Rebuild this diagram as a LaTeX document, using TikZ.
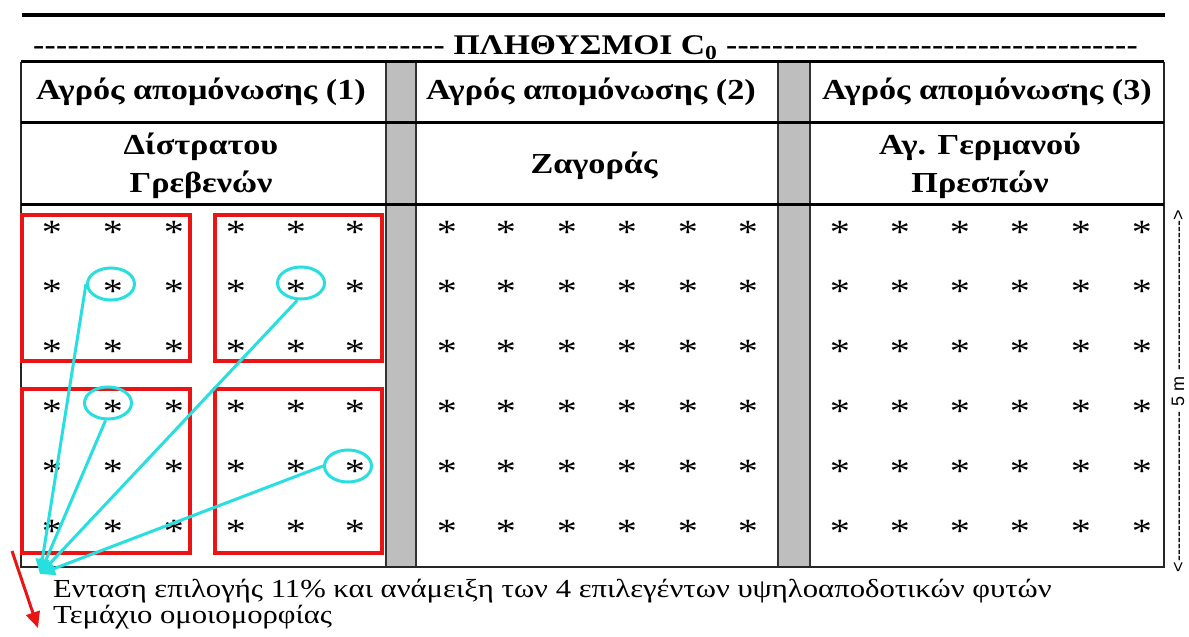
\documentclass[tikz,border=0pt]{standalone}
\usepackage{fontspec}
\setmainfont{Liberation Serif}[FakeStretch=1.18]
\newfontfamily\dimfont{Liberation Sans}
\usetikzlibrary{arrows.meta,shapes.geometric}
\definecolor{selcyan}{RGB}{40,222,222}
\definecolor{boxred}{RGB}{235,20,20}
\definecolor{sepgrey}{RGB}{190,190,190}
\tikzset{
  heavyrule/.style={line width=3bp, black},
  lightrule/.style={line width=1.6bp, black!85},
  greycol/.style={fill=sepgrey, draw=black!80, line width=1.4bp},
  redbox/.style={draw=boxred, line width=4bp},
  selring/.style={ellipse, draw=selcyan, line width=3bp, minimum width=47bp, minimum height=32bp, inner sep=0pt},
  selline/.style={draw=selcyan, line width=3bp, -{Triangle[length=15bp,width=13bp]}},
  redarrow/.style={draw=boxred, line width=3bp, -{Triangle[length=16bp,width=14bp]}},
  plant/.style={inner sep=0pt, anchor=base, font=\fontsize{34bp}{34bp}\selectfont},
  hdrtext/.style={font=\bfseries\fontsize{29bp}{30bp}\selectfont},
  loctext/.style={font=\bfseries\fontsize{29bp}{38bp}\selectfont, align=center},
  notetext/.style={anchor=base west, inner sep=0pt, font=\fontsize{26bp}{26bp}\selectfont},
}
\begin{document}
\begin{tikzpicture}[x=1bp,y=-1bp]
\useasboundingbox (0,0) rectangle (1189,637);
% top rule and title
\draw[line width=4bp] (22,15) -- (1165,15);
\node[inner sep=0pt, anchor=base, font=\bfseries\fontsize{28.5bp}{28bp}\selectfont] (title) at (585.5,55)
  {\hbox to 1105bp{\xleaders\hbox{-}\hfill\ ΠΛΗΘΥΣΜΟΙ C\textsubscript{0}\ \xleaders\hbox{-}\hfill}};
% grey separator columns
\draw[greycol] (386,62) rectangle (416,567);
\draw[greycol] (778,62) rectangle (810,567);
% table frame
\draw[lightrule] (21,62) -- (21,567) -- (1164,567) -- (1164,62);
\draw[heavyrule] (21,62) -- (1164,62);
\draw[heavyrule] (21,123) -- (1164,123);
\draw[heavyrule] (21,205) -- (1164,205);
% header texts
\node[hdrtext] (hdr1) at (201,92) {Αγρός απομόνωσης (1)};
\node[hdrtext] (hdr2) at (591,92) {Αγρός απομόνωσης (2)};
\node[hdrtext] (hdr3) at (987,92) {Αγρός απομόνωσης (3)};
\node[loctext] (loc1) at (201,166) {Δίστρατου\\Γρεβενών};
\node[loctext] (loc2) at (594,166) {Ζαγοράς};
\node[loctext] (loc3) at (980,166) {Αγ. Γερμανού\\Πρεσπών};
% plants
\foreach \r [count=\ri] in {227,286,345,405,465,525}
  \foreach \xx [count=\ci] in {52,113,174,236,296,355,447,506,567,627,688,748,840,900,960,1020,1081,1142}
    \node[plant] (p\ri-\ci) at (\xx,\r+17) {*};
% uniformity plots
\draw[redbox] (22,215) rectangle (190,361);
\draw[redbox] (215,215) rectangle (382,361);
\draw[redbox] (22,389) rectangle (190,553);
\draw[redbox] (215,389) rectangle (382,553);
% selected plants
\node[selring] (e1) at (111,284) {};
\node[selring] (e2) at (301,283) {};
\node[selring] (e3) at (108,403) {};
\node[selring] (e4) at (348,466) {};
\coordinate (hub) at (40,574);
\draw[selline] (e1.west) -- (hub);
\draw[selline] (e2.258) -- (hub);
\draw[selline] (e3.262) -- (hub);
\draw[selline] (e4.west) -- (hub);
% red arrow
\coordinate (rs) at (12,551);
\coordinate (re) at (38,628);
\draw[redarrow] (rs) -- (re);
% notes
\node[notetext] (note1) at (53,597) {Ενταση επιλογής 11\% και ανάμειξη των 4 επιλεγέντων υψηλοαποδοτικών φυτών};
\node[notetext] (note2) at (53,623) {Τεμάχιο ομοιομορφίας};
% dimension
\node[rotate=90, inner sep=0pt, font=\dimfont\fontsize{18bp}{18bp}\selectfont] (dim) at (1178,391)
  {\hbox to 363bp{<\xleaders\hbox{-}\hfill\ 5 m\ \xleaders\hbox{-}\hfill>}};
\end{tikzpicture}
\end{document}
